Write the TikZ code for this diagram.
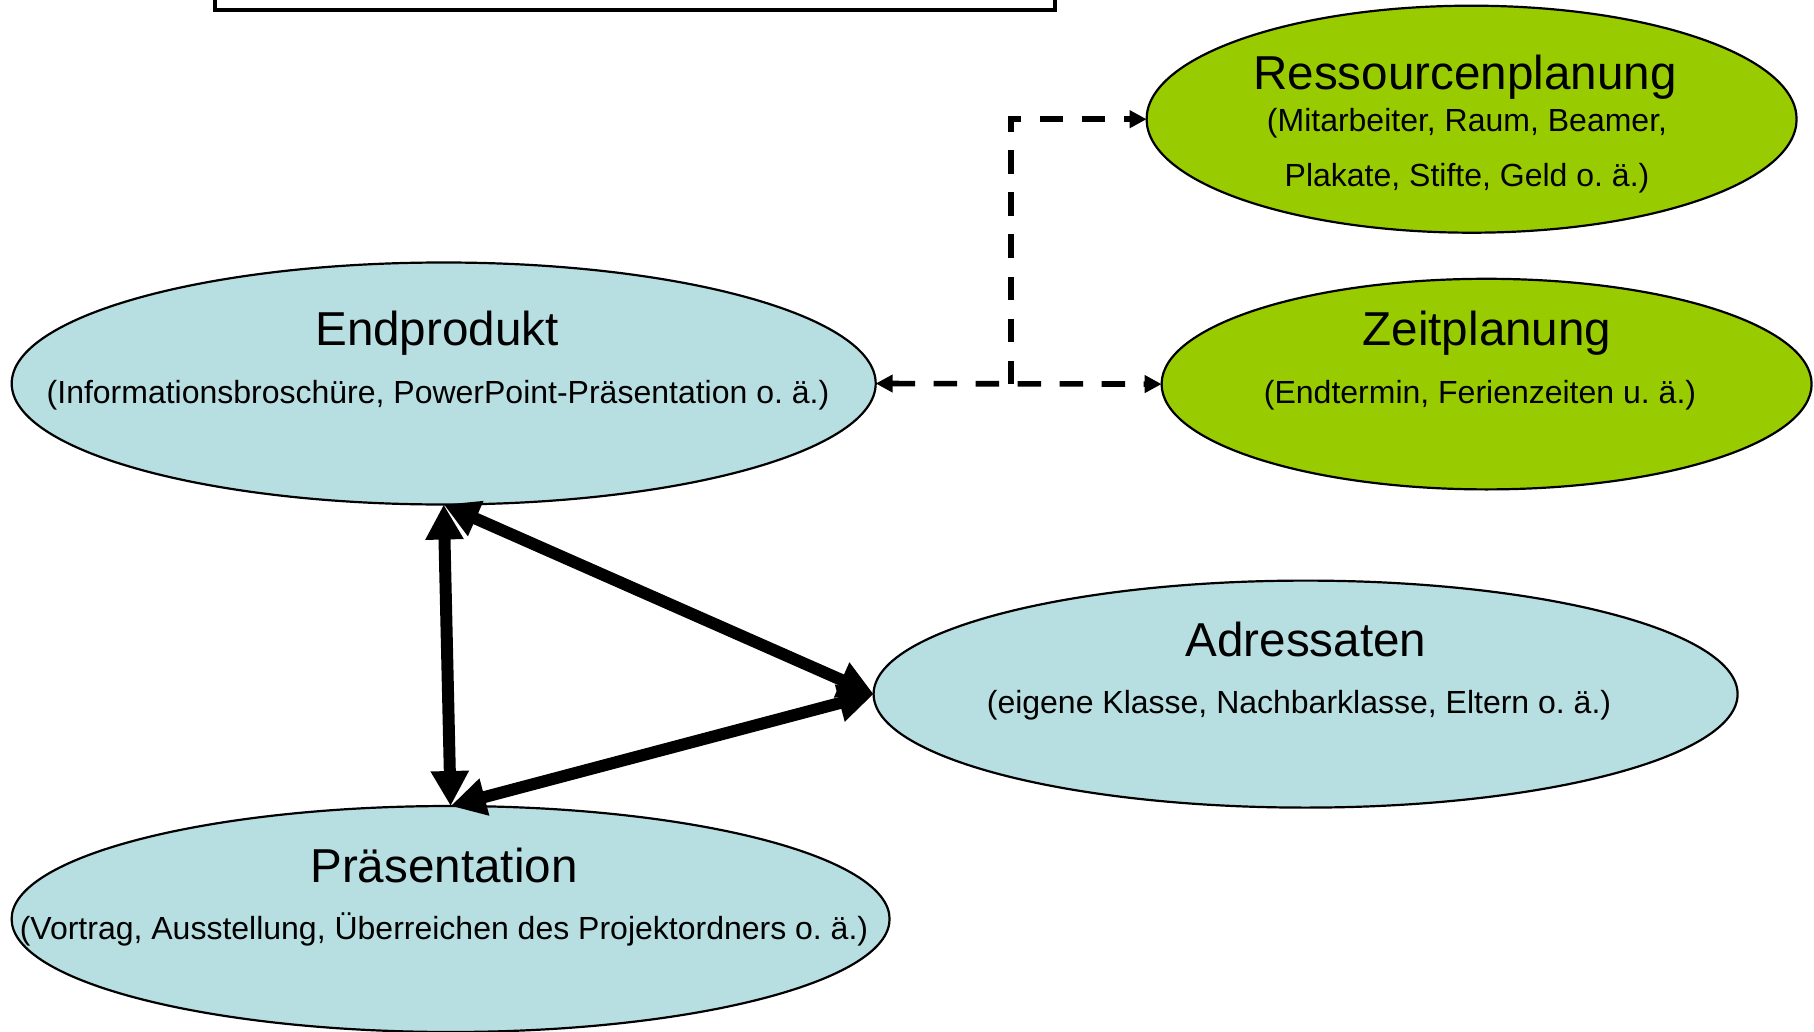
\documentclass[tikz,border=0pt]{standalone}
\usepackage{fontspec}
\setmainfont{Liberation Sans}
\usetikzlibrary{shapes.geometric,arrows.meta}
\definecolor{lightblue}{RGB}{183,222,225}
\definecolor{leafgreen}{RGB}{153,204,0}
\tikzset{
  oval/.style={ellipse, draw=black, line width=1.1pt, inner sep=0pt, outer sep=0pt},
  bluefill/.style={oval, fill=lightblue},
  greenfill/.style={oval, fill=leafgreen},
  titletext/.style={inner sep=0pt, font=\fontsize{23.8}{28}\selectfont},
  subtext/.style={inner sep=0pt, align=center, font=\fontsize{16}{27.5}\selectfont},
  dashlink/.style={line width=2.8pt, dash pattern=on 11.75pt off 9.25pt, -{Triangle[length=8.5pt,width=8.5pt]}},
  dashlinkboth/.style={line width=2.8pt, dash pattern=on 11.75pt off 9.25pt, {Triangle[length=8.5pt,width=8.5pt]}-{Triangle[length=8.5pt,width=8.5pt]}},
  thicklink/.style={line width=6pt, {Triangle[length=17.5pt,width=18pt]}-{Triangle[length=17.5pt,width=18pt]}}
}
\begin{document}
\begin{tikzpicture}[x=0.5pt, y=-0.5pt]
\useasboundingbox (0,0) rectangle (1814,1032);
\clip (0,0) rectangle (1814,1032);
% partially visible box at top
\node[draw=black, fill=white, line width=2pt, minimum width=420pt, minimum height=40pt, inner sep=0pt, outer sep=0pt] (topbox) at (635,-30) {};

% ellipses
\node[greenfill, minimum width=325pt, minimum height=113.5pt] (res) at (1471.6,119.2) {};
\node[greenfill, minimum width=325pt, minimum height=105.3pt] (zeit) at (1486.6,384.1) {};
\node[bluefill, minimum width=432pt, minimum height=121pt] (end) at (443.7,383.5) {};
\node[bluefill, minimum width=432pt, minimum height=113.5pt] (adr) at (1305.6,694.1) {};
\node[bluefill, minimum width=439pt, minimum height=113pt] (pras) at (450.6,919) {};

% texts
\node[titletext] (restitle) at (1465,77.5) {Ressourcenplanung};
\node[subtext] (ressub) at (1467,151) {(Mitarbeiter, Raum, Beamer,\\Plakate, Stifte, Geld o.\ ä.)};
\node[titletext] (zeittitle) at (1487,333) {Zeitplanung};
\node[subtext] (zeitsub) at (1480,395.5) {(Endtermin, Ferienzeiten u.\ ä.)};
\node[titletext] (endtitle) at (437,333) {Endprodukt};
\node[subtext] (endsub) at (438,395.5) {(Informationsbroschüre, PowerPoint-Präsentation o.\ ä.)};
\node[titletext] (adrtitle) at (1306,639) {Adressaten};
\node[subtext] (adrsub) at (1299,705.5) {(eigene Klasse, Nachbarklasse, Eltern o.\ ä.)};
\node[titletext] (prastitle) at (444,865) {Präsentation};
\node[subtext] (prassub) at (444,929.5) {(Vortrag, Ausstellung, Überreichen des Projektordners o.\ ä.)};

% dashed connectors
\coordinate (junction) at (1010.7,384);
\draw[dashlinkboth] (end.east) -- (zeit.west);
\draw[dashlink] (junction) |- (res.west);

% thick double arrows
\draw[thicklink] (end.south) -- (pras.north);
\draw[thicklink] (end.south) -- (adr.west);
\draw[thicklink] (adr.west) -- (pras.north);
\end{tikzpicture}
\end{document}
